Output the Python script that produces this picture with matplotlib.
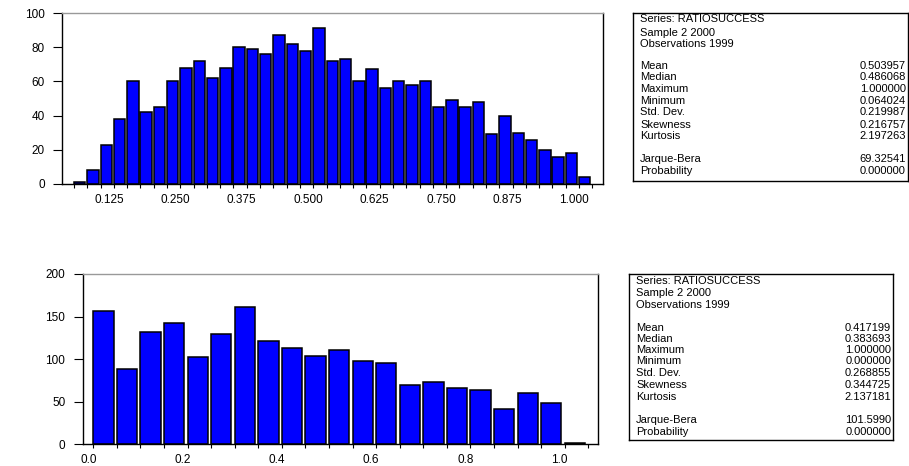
import numpy as np
import matplotlib
matplotlib.use('Agg')
from matplotlib import pyplot as plt
from matplotlib.transforms import ScaledTranslation

plt.rcParams['font.family'] = ['Liberation Sans', 'DejaVu Sans']

# RATIOSUCCESS histogram, upper panel: bins of 0.025 starting at 0.05
top_start = 0.05
top_bw = 0.025
top_counts = [1, 8, 23, 38, 60, 42, 45, 60, 68, 72, 62, 68, 80, 79, 76, 87, 82, 78, 91, 72,
              73, 60, 67, 56, 60, 58, 60, 45, 49, 45, 48, 29, 40, 30, 26, 20, 16, 18, 4]
top_yticks = [0, 20, 40, 60, 80, 100]
top_xlabels = ['0.125', '0.250', '0.375', '0.500', '0.625', '0.750', '0.875', '1.000']

# lower panel: bins of 0.05 starting at 0.0
bot_start = 0.0
bot_bw = 0.05
bot_counts = [157, 89, 132, 142, 102, 130, 161, 121, 113, 104, 111, 98, 95, 70, 73, 66,
              64, 41, 60, 49, 2]
bot_yticks = [0, 50, 100, 150, 200]
bot_xlabels = ['0.0', '0.2', '0.4', '0.6', '0.8', '1.0']

header = ['Series: RATIOSUCCESS', 'Sample 2 2000', 'Observations 1999']
stat_names = ['Mean', 'Median', 'Maximum', 'Minimum', 'Std. Dev.', 'Skewness', 'Kurtosis']
jb_names = ['Jarque-Bera', 'Probability']
top_stats = ['0.503957', '0.486068', '1.000000', '0.064024', '0.219987', '0.216757', '2.197263']
top_jb = ['69.32541', '0.000000']
bot_stats = ['0.417199', '0.383693', '1.000000', '0.000000', '0.268855', '0.344725', '2.137181']
bot_jb = ['101.5990', '0.000000']

W, H = 909, 466
fig = plt.figure(figsize=(W / 100, H / 100), dpi=100)


def px_axes(l, t, r, b):
    return fig.add_axes([l / W, 1 - b / H, (r - l) / W, (b - t) / H])


def draw_hist(ax, start, bw, counts, xlim, ymax, yticks, xlabels):
    edges = start + bw * np.arange(len(counts))
    ax.bar(edges, counts, width=bw * 0.86, align='edge', color='#0000ff',
           edgecolor='black', linewidth=1.1)
    ax.set_xlim(xlim)
    ax.set_ylim(0, ymax)
    ax.set_xticks(start + bw * np.arange(len(counts) + 1), minor=True)
    ax.set_xticks([float(s) for s in xlabels])
    ax.set_xticklabels(xlabels)
    ax.set_yticks(yticks)
    ax.tick_params(axis='x', which='both', length=3, width=0.8, pad=4, labelsize=8.5)
    ax.tick_params(axis='y', length=6.5, width=0.8, pad=6, labelsize=8.5)
    for s in ['left', 'bottom', 'right']:
        ax.spines[s].set_linewidth(1.0)
        ax.spines[s].set_color('black')
    ax.spines['top'].set_color('#999999')
    ax.spines['top'].set_linewidth(1.0)
    # tick labels sit a little left of their ticks
    shift = ScaledTranslation(-0.05, 0, fig.dpi_scale_trans)
    for lbl in ax.get_xticklabels():
        lbl.set_transform(lbl.get_transform() + shift)


def draw_stats(l, t, r, b, rows_y, values, jb_values):
    box = px_axes(l, t, r, b)
    box.set_xticks([])
    box.set_yticks([])
    for s in box.spines.values():
        s.set_linewidth(1.0)
    lx = l + 7
    rx = r - 2
    names = header + stat_names + jb_names
    vals = ['', '', ''] + values + jb_values
    for y, name, v in zip(rows_y, names, vals):
        fig.text(lx / W, 1 - y / H, name, fontsize=8, va='center', ha='left')
        if v:
            fig.text(rx / W, 1 - y / H, v, fontsize=8, va='center', ha='right')


ax1 = px_axes(62, 13, 603, 184)
draw_hist(ax1, top_start, top_bw, top_counts, (0.0274, 1.0451), 100, top_yticks, top_xlabels)

ax2 = px_axes(82.7, 274, 598, 444.3)
draw_hist(ax2, bot_start, bot_bw, bot_counts, (-0.0225, 1.0706), 200, bot_yticks, bot_xlabels)

draw_stats(633, 13, 908, 181,
           [19.5, 32.5, 44, 65.7, 77.3, 89.3, 100.7, 112.3, 124.5, 136, 159.3, 170.7],
           top_stats, top_jb)
draw_stats(629, 274, 893, 440,
           [281, 293, 304.5, 327.7, 339, 350.3, 361.5, 373.3, 385.5, 396.7, 420, 431.7],
           bot_stats, bot_jb)

fig.savefig('out.png', dpi=100)
